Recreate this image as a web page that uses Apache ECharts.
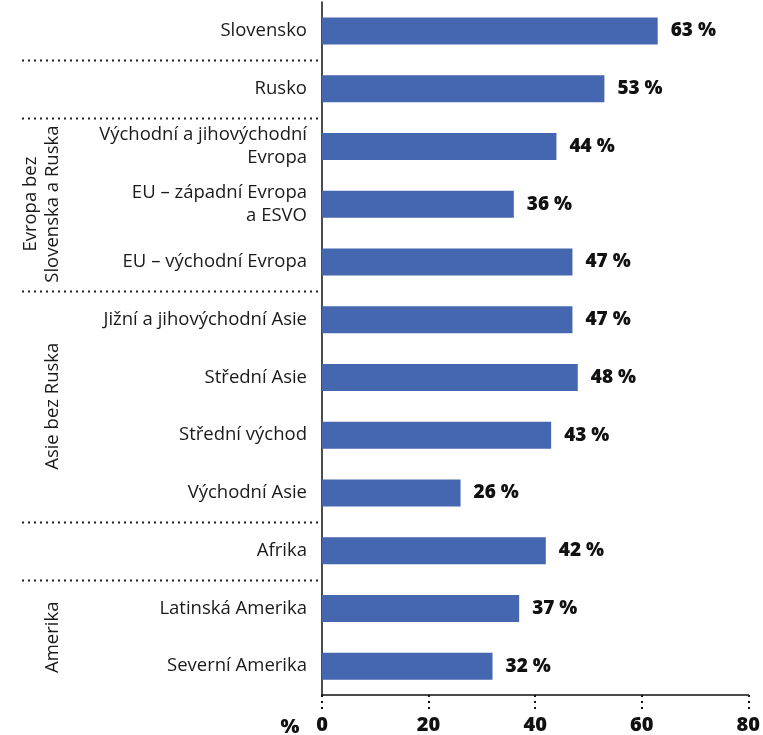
<!DOCTYPE html>
<html>
<head>
<meta charset="utf-8">
<script src="https://cdn.jsdelivr.net/npm/echarts@6/dist/echarts.min.js"></script>
<style>
html,body{margin:0;padding:0;background:#fff;}
#main{width:763px;height:735px;}
</style>
</head>
<body>
<div id="main"></div>
<script>
// kategorie (shora dolu)
var categories = ['Slovensko', 'Rusko', 'Východní a jihovýchodní\nEvropa', 'EU – západní Evropa\na ESVO',
    'EU – východní Evropa', 'Jižní a jihovýchodní Asie', 'Střední Asie', 'Střední východ',
    'Východní Asie', 'Afrika', 'Latinská Amerika', 'Severní Amerika'];
var values = [63, 53, 44, 36, 47, 47, 48, 43, 26, 42, 37, 32];
var xTicks = [0, 20, 40, 60, 80];
// skupiny: [text, prvni index, posledni index]
var groups = [['Evropa bez\nSlovenska a Ruska', 2, 4], ['Asie bez Ruska', 5, 8], ['Amerika', 10, 11]];
// oddelovace za indexem
var separators = [0, 1, 4, 8, 9];

var FONT = '"Open Sans", Lato, sans-serif';
var chart = echarts.init(document.getElementById('main'));

var option = {
    animation: false,
    grid: {left: 322, right: 14, top: 2, bottom: 40, containLabel: false},
    xAxis: {
        type: 'value',
        min: xTicks[0],
        max: xTicks[xTicks.length - 1],
        interval: 20,
        axisLine: {show: true, lineStyle: {color: '#111', width: 1.5}},
        axisTick: {show: true, inside: false, length: 17, lineStyle: {color: '#111', width: 2, type: [2, 4]}},
        splitLine: {show: false},
        axisLabel: {color: '#111', fontFamily: FONT, fontWeight: 800, fontSize: 20, margin: 20}
    },
    yAxis: {
        type: 'category',
        inverse: true,
        data: categories,
        axisLine: {show: true, lineStyle: {color: '#111', width: 1.5}},
        axisTick: {show: false},
        axisLabel: {color: '#1a1a1a', fontFamily: FONT, fontSize: 18.5, margin: 15, lineHeight: 23, align: 'right'}
    },
    series: [{
        type: 'bar',
        data: values,
        barWidth: 27,
        itemStyle: {color: '#4467b0'},
        label: {
            show: true,
            position: 'right',
            distance: 13,
            formatter: '{c} %',
            color: '#111',
            fontFamily: FONT,
            fontWeight: 800,
            fontSize: 19,
            padding: [3, 0, 0, 0]
        }
    }]
};
chart.setOption(option);

// oddelovace a popisky skupin
function py(i) { return chart.convertToPixel({yAxisIndex: 0}, i); }
var graphics = [];
separators.forEach(function (i) {
    var y = Math.round((py(i) + py(i + 1)) / 2) + 0.5;
    graphics.push({
        type: 'line',
        shape: {x1: 22, y1: y, x2: 318, y2: y},
        style: {stroke: '#222', lineWidth: 2, lineDash: [2, 4]},
        silent: true
    });
});
groups.forEach(function (g) {
    var yc = (py(g[1]) + py(g[2])) / 2;
    graphics.push({
        type: 'text',
        x: 64, y: yc,
        rotation: Math.PI / 2,
        style: {
            text: g[0], fill: '#1a1a1a', font: '18.5px ' + FONT,
            textAlign: 'center', textVerticalAlign: 'bottom', lineHeight: 22
        },
        silent: true
    });
});
var x0 = chart.convertToPixel({xAxisIndex: 0}, 0);
var yBottom = chart.getHeight() - 40;
graphics.push({
    type: 'text',
    x: x0 - 32, y: yBottom + 32,
    style: {text: '%', fill: '#111', font: '800 20px ' + FONT, textAlign: 'center', textVerticalAlign: 'middle'},
    silent: true
});
chart.setOption({graphic: graphics});
</script>
</body>
</html>
